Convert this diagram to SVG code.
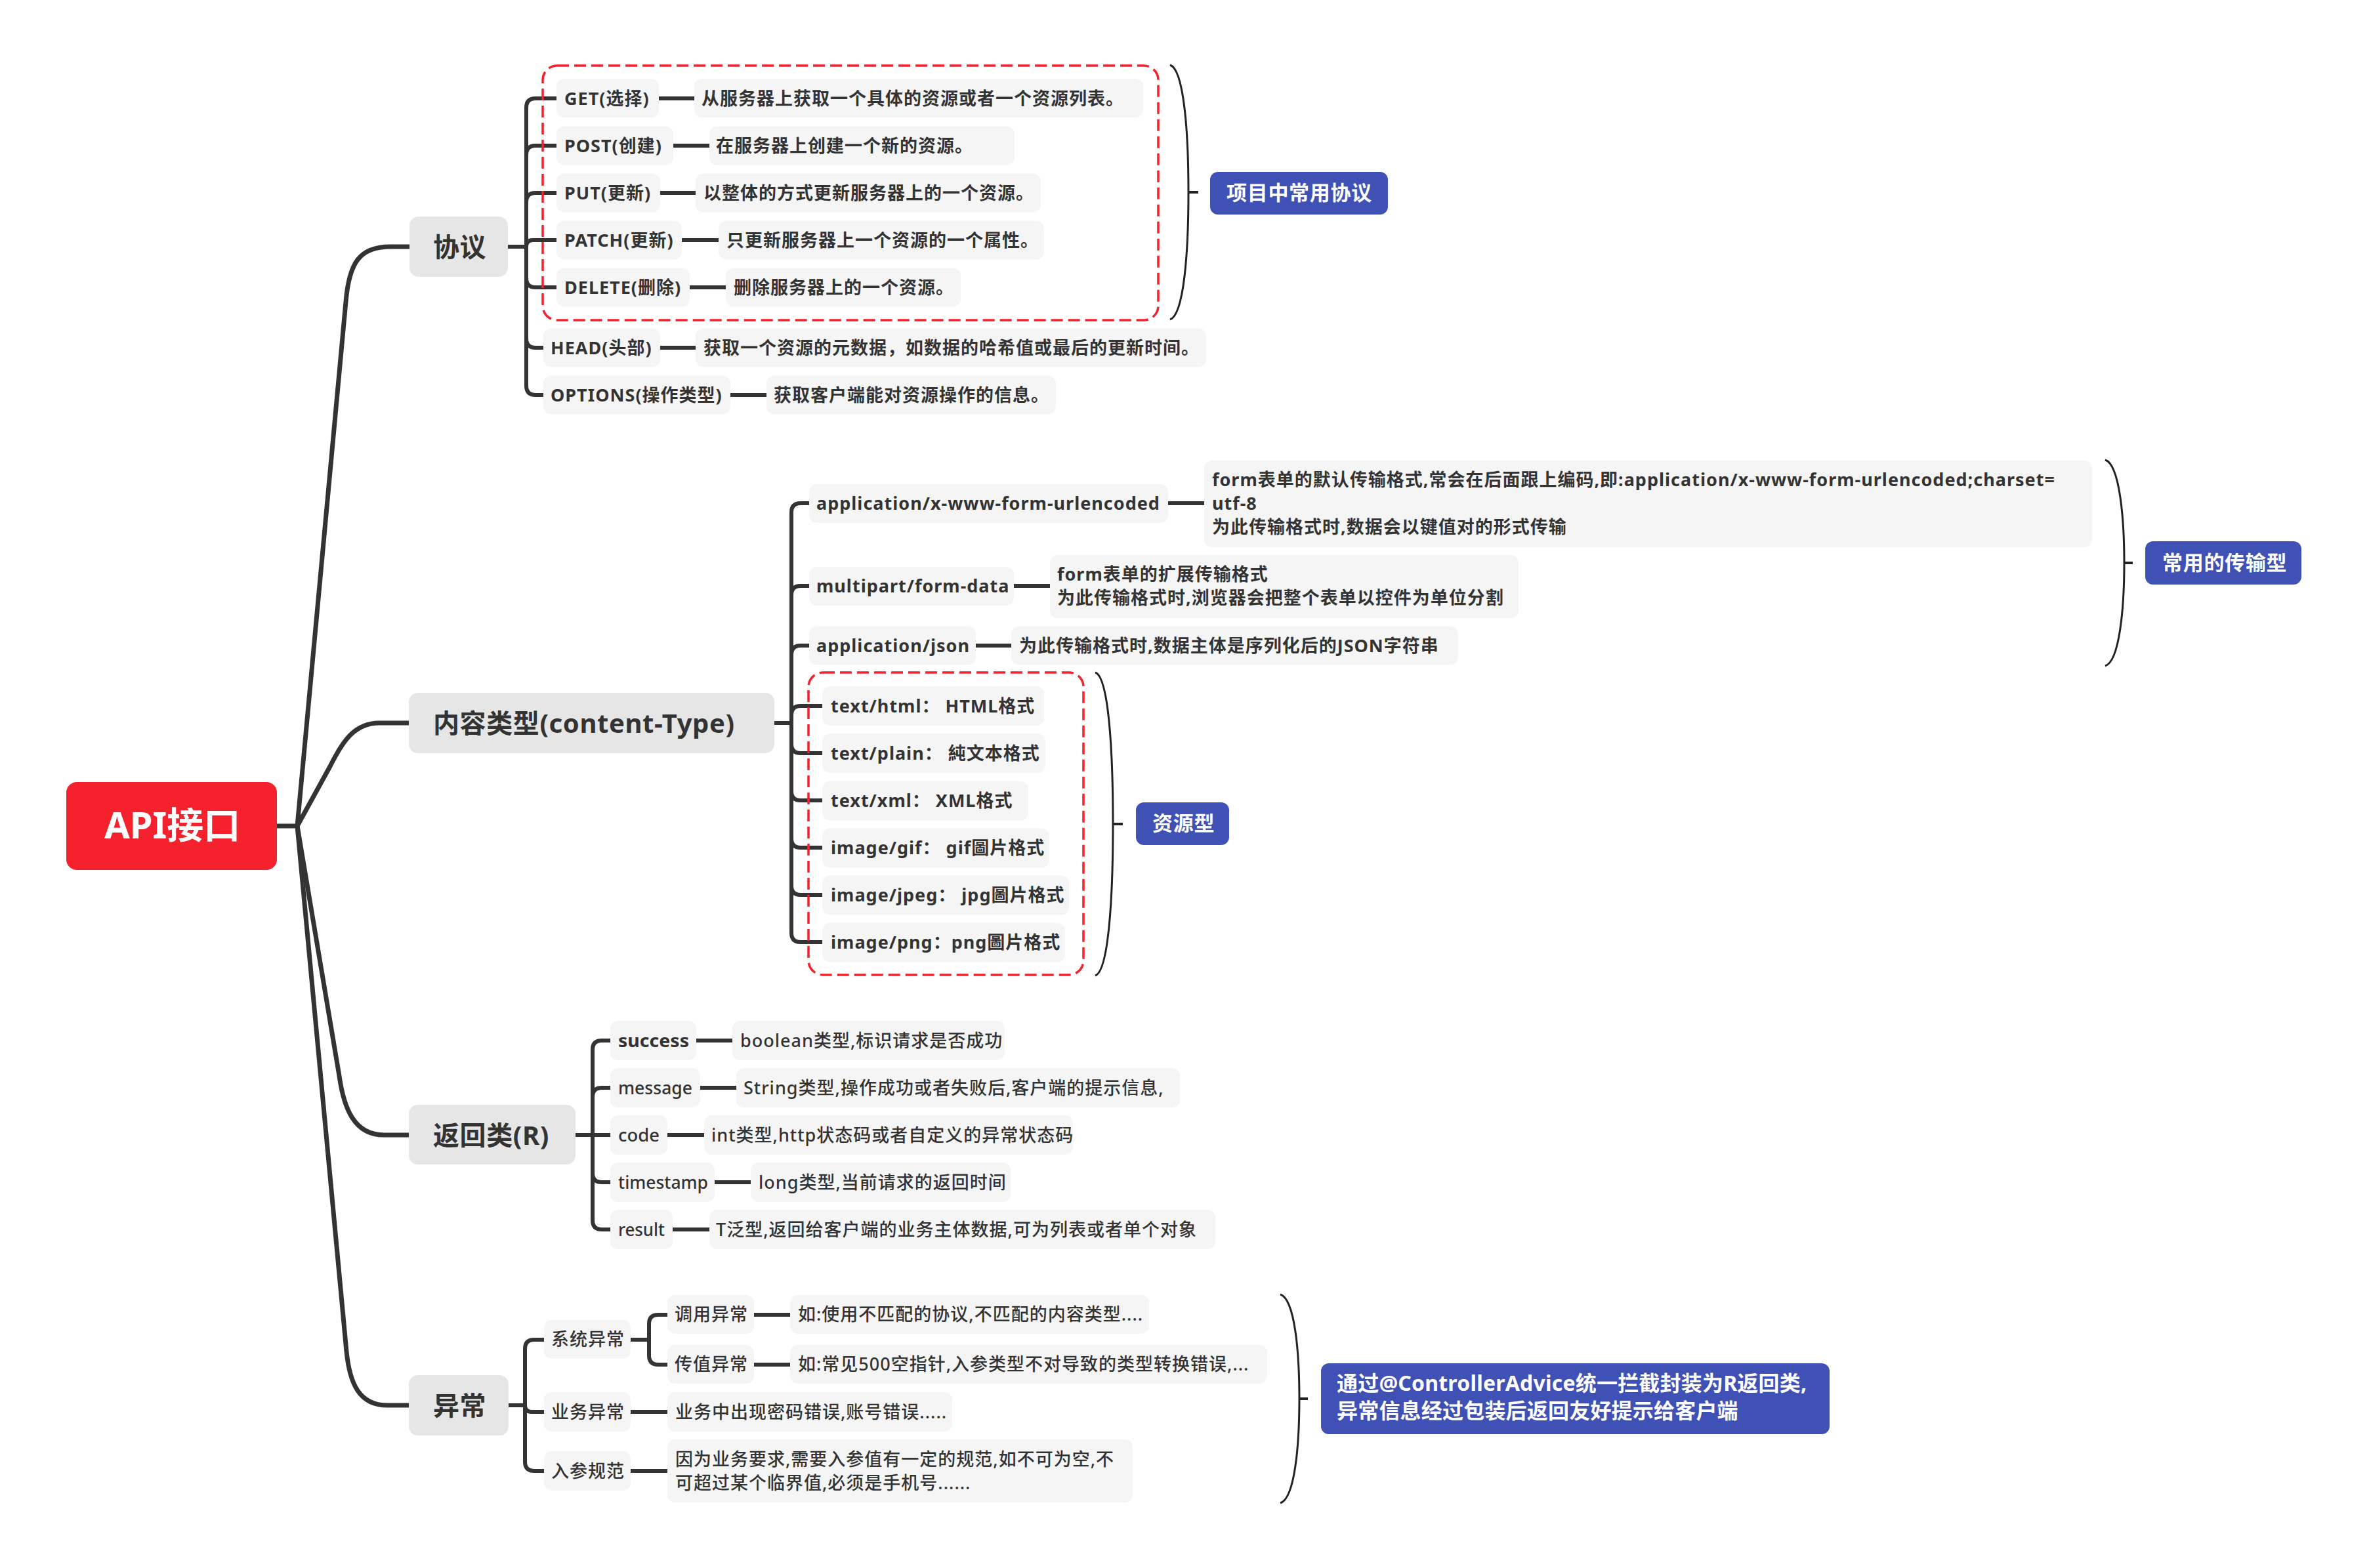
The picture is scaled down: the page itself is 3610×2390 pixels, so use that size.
<svg xmlns="http://www.w3.org/2000/svg" width="3610" height="2390" viewBox="0 0 3610 2390">
<style>
text{font-family:"Noto Sans","Noto Sans CJK SC",sans-serif;font-size:27px;fill:#333;font-weight:500;letter-spacing:1px}
.b{font-weight:700}
.mt{font-size:40px;font-weight:700;letter-spacing:0.6px}
.rt{font-size:56px;font-weight:700;fill:#fff;letter-spacing:0}
.lt{font-size:31px;font-weight:700;fill:#fff;letter-spacing:0.7px}
.lt2{font-size:32px;font-weight:700;fill:#fff;letter-spacing:0.2px}
.n{letter-spacing:0}
.root{fill:#F5222D}
.main{fill:#E6E6E6}
.sub{fill:#F5F5F5}
.blue{fill:#3F51B5}
.c1{fill:none;stroke:#333;stroke-width:7}
.c2{fill:none;stroke:#333;stroke-width:6}
.dash{fill:none;stroke:#F5222D;stroke-width:3.5;stroke-dasharray:18 8}
.brace{fill:none;stroke:#222;stroke-width:3}
.bs{fill:none;stroke:#222;stroke-width:4}
</style>
<rect width="3610" height="2390" fill="#fff"/>

<g id="connectors">
  <path class="c1" d="M422 1259 L453 1259"/>
  <path class="c1" d="M453 1259 L527 460 C532 400 548 376 595 376 L624 376"/>
  <path class="c1" d="M453 1259 L503 1168 C522 1130 540 1102 578 1102 L623 1102"/>
  <path class="c1" d="M453 1259 L517 1640 C524 1690 540 1730 585 1730 L623 1730"/>
  <path class="c1" d="M453 1259 L528 2060 C533 2110 548 2142 590 2142 L623 2142"/>
  <path class="c2" d="M774 376 L802 376"/>
  <path class="c2" d="M802 376 L802 164 Q802 150 816 150 L848 150"/>
  <path class="c2" d="M802 376 L802 236 Q802 222 816 222 L848 222"/>
  <path class="c2" d="M802 376 L802 308 Q802 294 816 294 L848 294"/>
  <path class="c2" d="M802 376 Q802 366 812 366 L848 366"/>
  <path class="c2" d="M802 376 L802 424 Q802 438 816 438 L848 438"/>
  <path class="c2" d="M802 376 L802 516 Q802 530 816 530 L828 530"/>
  <path class="c2" d="M802 376 L802 588 Q802 602 816 602 L828 602"/>
  <path class="c2" d="M1004 150 L1058 150"/>
  <path class="c2" d="M1026 222 L1081 222"/>
  <path class="c2" d="M1006 294 L1060 294"/>
  <path class="c2" d="M1039 366 L1095 366"/>
  <path class="c2" d="M1051 438 L1106 438"/>
  <path class="c2" d="M1006 530 L1060 530"/>
  <path class="c2" d="M1113 602 L1168 602"/>
  <path class="c2" d="M1180 1102 L1206 1102"/>
  <path class="c2" d="M1206 1102 L1206 781 Q1206 767 1220 767 L1233 767"/>
  <path class="c2" d="M1206 1102 L1206 907 Q1206 893 1220 893 L1233 893"/>
  <path class="c2" d="M1206 1102 L1206 998 Q1206 984 1220 984 L1233 984"/>
  <path class="c2" d="M1206 1102 L1206 1090 Q1206 1076 1220 1076 L1253 1076"/>
  <path class="c2" d="M1206 1102 L1206 1134 Q1206 1148 1220 1148 L1253 1148"/>
  <path class="c2" d="M1206 1102 L1206 1206 Q1206 1220 1220 1220 L1253 1220"/>
  <path class="c2" d="M1206 1102 L1206 1278 Q1206 1292 1220 1292 L1253 1292"/>
  <path class="c2" d="M1206 1102 L1206 1350 Q1206 1364 1220 1364 L1253 1364"/>
  <path class="c2" d="M1206 1102 L1206 1422 Q1206 1436 1220 1436 L1253 1436"/>
  <path class="c2" d="M1780 767 L1835 767"/>
  <path class="c2" d="M1545 893 L1600 893"/>
  <path class="c2" d="M1487 984 L1541 984"/>
  <path class="c2" d="M877 1730 L903 1730"/>
  <path class="c2" d="M903 1730 L903 1600 Q903 1586 917 1586 L930 1586"/>
  <path class="c2" d="M903 1730 L903 1672 Q903 1658 917 1658 L930 1658"/>
  <path class="c2" d="M903 1730 L930 1730"/>
  <path class="c2" d="M903 1730 L903 1788 Q903 1802 917 1802 L930 1802"/>
  <path class="c2" d="M903 1730 L903 1860 Q903 1874 917 1874 L930 1874"/>
  <path class="c2" d="M1061 1586 L1116 1586"/>
  <path class="c2" d="M1067 1658 L1122 1658"/>
  <path class="c2" d="M1017 1730 L1073 1730"/>
  <path class="c2" d="M1089 1802 L1144 1802"/>
  <path class="c2" d="M1025 1874 L1081 1874"/>
  <path class="c2" d="M775 2142 L800 2142"/>
  <path class="c2" d="M800 2142 L800 2056 Q800 2042 814 2042 L829 2042"/>
  <path class="c2" d="M800 2142 Q800 2152 810 2152 L829 2152"/>
  <path class="c2" d="M800 2142 L800 2228 Q800 2242 814 2242 L829 2242"/>
  <path class="c2" d="M961 2042 L989 2042"/>
  <path class="c2" d="M989 2042 L989 2018 Q989 2004 1003 2004 L1017 2004"/>
  <path class="c2" d="M989 2042 L989 2066 Q989 2080 1003 2080 L1017 2080"/>
  <path class="c2" d="M1149 2004 L1204 2004"/>
  <path class="c2" d="M1149 2080 L1204 2080"/>
  <path class="c2" d="M961 2152 L1017 2152"/>
  <path class="c2" d="M961 2242 L1017 2242"/>
</g>

<g id="boundaries">
  <rect class="dash" x="827" y="100" width="938" height="388" rx="22"/>
  <rect class="dash" x="1232" y="1025" width="419" height="461" rx="22"/>
</g>

<g id="summaries">
  <path class="brace" d="M1783 99 C1804 106 1811 200 1811 293 C1811 386 1804 480 1783 487"/>
  <path class="bs" d="M1811 293 L1826 293"/>
  <path class="brace" d="M3208 701 C3230 708 3237 790 3237 858 C3237 926 3230 1008 3208 1015"/>
  <path class="bs" d="M3237 858 L3250 858"/>
  <path class="brace" d="M1669 1025 C1690 1032 1696 1150 1696 1256 C1696 1362 1690 1480 1669 1487"/>
  <path class="bs" d="M1696 1256 L1711 1256"/>
  <path class="brace" d="M1951 1973 C1973 1980 1980 2060 1980 2132 C1980 2204 1973 2284 1951 2291"/>
  <path class="bs" d="M1980 2132 L1993 2132"/>
</g>

<g id="root"><rect class="root" x="101" y="1192" width="321" height="134" rx="16"/><text class="rt" x="159" y="1278">API接口</text></g>

<g id="t-protocol"><rect class="main" x="624" y="330" width="150" height="92" rx="14"/><text class="mt" x="660" y="391">协议</text></g>
<g id="t-content"><rect class="main" x="623" y="1056" width="557" height="92" rx="14"/><text class="mt" x="660" y="1117">内容类型(content-Type)</text></g>
<g id="t-result"><rect class="main" x="623" y="1684" width="254" height="91" rx="14"/><text class="mt" x="660" y="1745">返回类(R)</text></g>
<g id="t-exception"><rect class="main" x="623" y="2096" width="152" height="92" rx="14"/><text class="mt" x="660" y="2157">异常</text></g>

<g id="get"><rect class="sub" x="848" y="120" width="156" height="59" rx="12"/><text class="b" x="860" y="159.5">GET(选择)</text></g>
<g id="get-d"><rect class="sub" x="1058" y="120" width="684" height="59" rx="12"/><text class="b" x="1069" y="159.5">从服务器上获取一个具体的资源或者一个资源列表。</text></g>
<g id="post"><rect class="sub" x="848" y="192.5" width="178" height="59" rx="12"/><text class="b" x="860" y="231.5">POST(创建)</text></g>
<g id="post-d"><rect class="sub" x="1081" y="192.5" width="465" height="59" rx="12"/><text class="b" x="1091" y="231.5">在服务器上创建一个新的资源。</text></g>
<g id="put"><rect class="sub" x="848" y="264.5" width="158" height="59" rx="12"/><text class="b" x="860" y="303.5">PUT(更新)</text></g>
<g id="put-d"><rect class="sub" x="1060" y="264.5" width="526" height="59" rx="12"/><text class="b" x="1072" y="303.5">以整体的方式更新服务器上的一个资源。</text></g>
<g id="patch"><rect class="sub" x="848" y="336.5" width="191" height="59" rx="12"/><text class="b" x="860" y="375.5">PATCH(更新)</text></g>
<g id="patch-d"><rect class="sub" x="1095" y="336.5" width="496" height="59" rx="12"/><text class="b" x="1107" y="375.5">只更新服务器上一个资源的一个属性。</text></g>
<g id="delete"><rect class="sub" x="848" y="408.5" width="203" height="59" rx="12"/><text class="b" x="860" y="447.5">DELETE(删除)</text></g>
<g id="delete-d"><rect class="sub" x="1106" y="408.5" width="358" height="59" rx="12"/><text class="b" x="1118" y="447.5">删除服务器上的一个资源。</text></g>
<g id="head"><rect class="sub" x="828" y="500.5" width="178" height="59" rx="12"/><text class="b" x="839" y="539.5">HEAD(头部)</text></g>
<g id="head-d"><rect class="sub" x="1060" y="500.5" width="778" height="59" rx="12"/><text class="b" x="1072" y="539.5">获取一个资源的元数据，如数据的哈希值或最后的更新时间。</text></g>
<g id="options"><rect class="sub" x="828" y="572.5" width="285" height="59" rx="12"/><text class="b" x="839" y="611.5">OPTIONS(操作类型)</text></g>
<g id="options-d"><rect class="sub" x="1168" y="572.5" width="441" height="59" rx="12"/><text class="b" x="1179" y="611.5">获取客户端能对资源操作的信息。</text></g>
<g id="l-protocol"><rect class="blue" x="1844" y="262" width="271" height="65" rx="12"/><text class="lt" x="1869" y="305">项目中常用协议</text></g>

<g id="urlenc"><rect class="sub" x="1233" y="738" width="547" height="59" rx="12"/><text class="b" x="1244" y="777">application/x-www-form-urlencoded</text></g>
<g id="urlenc-d"><rect class="sub" x="1835" y="702" width="1353" height="132" rx="12"/><text class="b" x="1847" y="741">form表单的默认传输格式,常会在后面跟上编码,即:application/x-www-form-urlencoded;charset=</text><text class="b" x="1847" y="777">utf-8</text><text class="b" x="1847" y="813">为此传输格式时,数据会以键值对的形式传输</text></g>
<g id="multipart"><rect class="sub" x="1233" y="864" width="312" height="59" rx="12"/><text class="b" x="1244" y="903">multipart/form-data</text></g>
<g id="multipart-d"><rect class="sub" x="1600" y="846" width="714" height="96" rx="12"/><text class="b" x="1611" y="885">form表单的扩展传输格式</text><text class="b" x="1611" y="921">为此传输格式时,浏览器会把整个表单以控件为单位分割</text></g>
<g id="json"><rect class="sub" x="1233" y="954.5" width="254" height="59" rx="12"/><text class="b" x="1244" y="993.5">application/json</text></g>
<g id="json-d"><rect class="sub" x="1541" y="954.5" width="681" height="59" rx="12"/><text class="b" x="1553" y="993.5">为此传输格式时,数据主体是序列化后的JSON字符串</text></g>
<g id="l-transfer"><rect class="blue" x="3269" y="825" width="238" height="66" rx="12"/><text class="lt" x="3295" y="869">常用的传输型</text></g>

<g id="html"><rect class="sub" x="1253" y="1046" width="338" height="60" rx="12"/><text class="b" x="1266" y="1085.5">text/html： HTML格式</text></g>
<g id="plain"><rect class="sub" x="1253" y="1118" width="340" height="60" rx="12"/><text class="b" x="1266" y="1157.5">text/plain： 純文本格式</text></g>
<g id="xml"><rect class="sub" x="1253" y="1190.5" width="314" height="60" rx="12"/><text class="b" x="1266" y="1229.5">text/xml： XML格式</text></g>
<g id="gif"><rect class="sub" x="1253" y="1262.5" width="346" height="60" rx="12"/><text class="b" x="1266" y="1301.5">image/gif： gif圖片格式</text></g>
<g id="jpeg"><rect class="sub" x="1253" y="1334.5" width="376" height="60" rx="12"/><text class="b" x="1266" y="1373.5">image/jpeg： jpg圖片格式</text></g>
<g id="png"><rect class="sub" x="1253" y="1406.5" width="370" height="60" rx="12"/><text class="b" x="1266" y="1445.5">image/png：png圖片格式</text></g>
<g id="l-resource"><rect class="blue" x="1731" y="1223" width="142" height="65" rx="12"/><text class="lt" x="1756" y="1266">资源型</text></g>

<g id="success"><rect class="sub" x="930" y="1556" width="131" height="60" rx="12"/><text class="b n" x="942" y="1595.5" textLength="108" lengthAdjust="spacingAndGlyphs">success</text></g>
<g id="success-d"><rect class="sub" x="1116" y="1556" width="415" height="60" rx="12"/><text x="1128" y="1595.5">boolean类型,标识请求是否成功</text></g>
<g id="message"><rect class="sub" x="930" y="1628" width="137" height="60" rx="12"/><text class="n" x="942" y="1667.5" textLength="113" lengthAdjust="spacingAndGlyphs">message</text></g>
<g id="message-d"><rect class="sub" x="1122" y="1628" width="676" height="60" rx="12"/><text x="1133" y="1667.5">String类型,操作成功或者失败后,客户端的提示信息,</text></g>
<g id="code"><rect class="sub" x="930" y="1700" width="87" height="60" rx="12"/><text class="n" x="942" y="1739.5" textLength="63" lengthAdjust="spacingAndGlyphs">code</text></g>
<g id="code-d"><rect class="sub" x="1073" y="1700" width="562" height="60" rx="12"/><text x="1084" y="1739.5">int类型,http状态码或者自定义的异常状态码</text></g>
<g id="timestamp"><rect class="sub" x="930" y="1772" width="159" height="60" rx="12"/><text class="n" x="942" y="1811.5" textLength="137" lengthAdjust="spacingAndGlyphs">timestamp</text></g>
<g id="timestamp-d"><rect class="sub" x="1144" y="1772" width="396" height="60" rx="12"/><text x="1156" y="1811.5">long类型,当前请求的返回时间</text></g>
<g id="result"><rect class="sub" x="930" y="1844" width="95" height="60" rx="12"/><text class="n" x="942" y="1883.5" textLength="71" lengthAdjust="spacingAndGlyphs">result</text></g>
<g id="result-d"><rect class="sub" x="1081" y="1844" width="771" height="60" rx="12"/><text x="1091" y="1883.5">T泛型,返回给客户端的业务主体数据,可为列表或者单个对象</text></g>

<g id="sys"><rect class="sub" x="829" y="2012" width="132" height="59" rx="12"/><text x="840" y="2051">系统异常</text></g>
<g id="call"><rect class="sub" x="1017" y="1974" width="132" height="59" rx="12"/><text x="1028" y="2013">调用异常</text></g>
<g id="call-d"><rect class="sub" x="1204" y="1974" width="547" height="59" rx="12"/><text x="1216" y="2013">如:使用不匹配的协议,不匹配的内容类型....</text></g>
<g id="pass"><rect class="sub" x="1017" y="2050" width="132" height="59" rx="12"/><text x="1028" y="2089">传值异常</text></g>
<g id="pass-d"><rect class="sub" x="1204" y="2050" width="727" height="59" rx="12"/><text x="1216" y="2089">如:常见500空指针,入参类型不对导致的类型转换错误,...</text></g>
<g id="biz"><rect class="sub" x="829" y="2122" width="132" height="60" rx="12"/><text x="840" y="2161.5">业务异常</text></g>
<g id="biz-d"><rect class="sub" x="1017" y="2122" width="434" height="60" rx="12"/><text x="1029" y="2161.5">业务中出现密码错误,账号错误.....</text></g>
<g id="param"><rect class="sub" x="829" y="2212" width="132" height="60" rx="12"/><text x="840" y="2251.5">入参规范</text></g>
<g id="param-d"><rect class="sub" x="1017" y="2194" width="709" height="96" rx="12"/><text x="1029" y="2234">因为业务要求,需要入参值有一定的规范,如不可为空,不</text><text x="1029" y="2270">可超过某个临界值,必须是手机号......</text></g>
<g id="l-exception"><rect class="blue" x="2013" y="2078" width="775" height="108" rx="12"/><text class="lt2" x="2037" y="2120">通过@ControllerAdvice统一拦截封装为R返回类,</text><text class="lt2" x="2037" y="2162">异常信息经过包装后返回友好提示给客户端</text></g>
</svg>
